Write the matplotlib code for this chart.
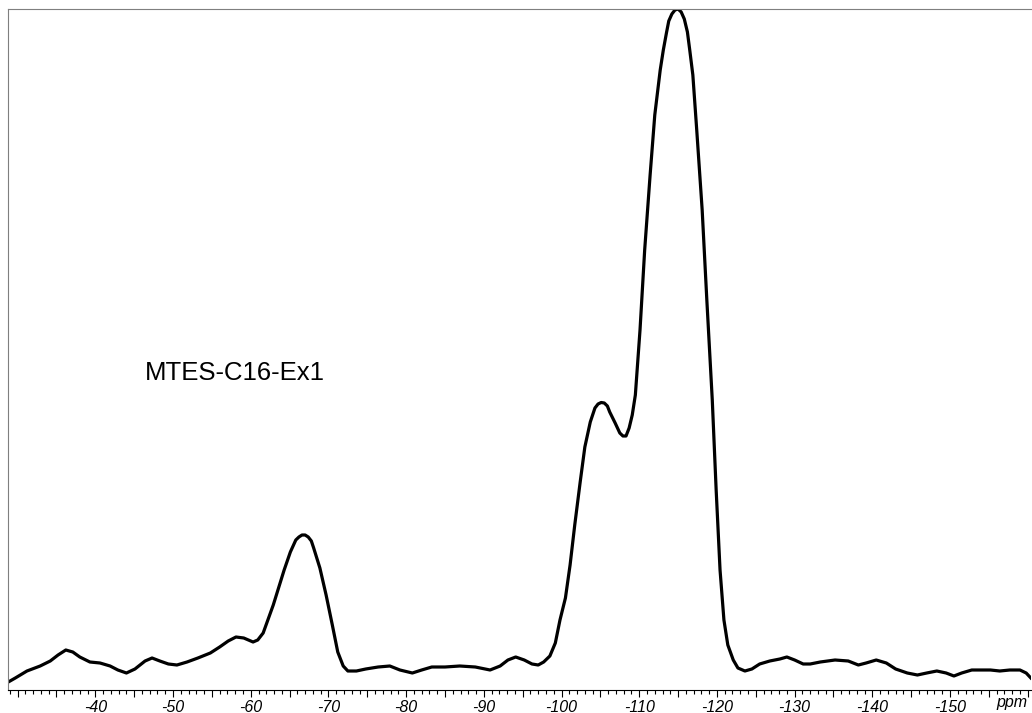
import numpy as np
import matplotlib.pyplot as plt
from matplotlib.ticker import MultipleLocator, FuncFormatter

# 29Si NMR spectrum (ppm, intensity in a.u.)
ppm = [-28.8, -29.7, -31.2, -32.9, -34.2, -35.2, -36.2, -37.1, -38.0, -39.3,
       -40.6, -41.9, -42.9, -44.0, -45.1, -46.4, -47.3, -48.3, -49.4, -50.5,
       -51.8, -53.2, -54.8, -56.0, -57.1, -58.1, -59.1, -60.3, -60.9, -61.6,
       -62.2, -62.9, -63.5, -64.3, -65.1, -65.8, -66.2, -66.6, -67.0, -67.4,
       -67.8, -68.1, -68.9, -69.7, -70.5, -71.2, -71.9, -72.5, -73.6, -74.8,
       -76.4, -77.9, -79.2, -80.8, -82.0, -83.3, -85.0, -86.9, -88.9, -90.8,
       -92.1, -93.1, -94.1, -95.2, -96.2, -97.0, -97.7, -98.5, -99.2, -99.8,
       -100.5, -101.1, -101.7, -102.4, -103.0, -103.7, -104.3, -104.7, -105.1, -105.5,
       -105.9, -106.2, -106.9, -107.5, -107.9, -108.3, -108.7, -109.1, -109.5, -110.1,
       -110.7, -111.4, -112.0, -112.7, -113.1, -113.5, -113.8, -114.2, -114.6, -115.0,
       -115.4, -115.8, -116.2, -116.5, -116.9, -117.4, -118.1, -118.7, -119.4, -119.9,
       -120.4, -120.9, -121.4, -122.1, -122.7, -123.6, -124.5, -125.5, -126.8, -128.1,
       -129.0, -130.0, -131.1, -132.0, -133.3, -135.2, -136.9, -138.2, -139.2, -140.5,
       -141.8, -143.0, -144.5, -145.8, -147.0, -148.3, -149.5, -150.5, -151.5, -152.8,
       -155.2, -156.4, -157.7, -159.0, -159.8, -160.4]
intensity = [8, 12, 19, 24, 29, 35, 40, 38, 33, 28,
             27, 24, 20, 17, 21, 29, 32, 29, 26, 25,
             28, 32, 37, 43, 49, 53, 52, 48, 50, 57,
             70, 85, 100, 120, 138, 150, 153, 155, 155, 153,
             149, 142, 122, 95, 65, 38, 24, 19, 19, 21,
             23, 24, 20, 17, 20, 23, 23, 24, 23, 20,
             24, 30, 33, 30, 26, 25, 28, 34, 47, 70,
             92, 125, 165, 208, 243, 268, 282, 286, 287.5, 287,
             284, 278, 267, 257, 254, 254, 262, 275, 295, 360,
             440, 515, 575, 620, 640, 657, 669, 676, 680, 681,
             678, 671, 658, 640, 615, 560, 480, 390, 290, 200,
             120, 70, 45, 30, 22, 19, 21, 26, 29, 31,
             33, 30, 26, 26, 28, 30, 29, 25, 27, 30,
             27, 21, 17, 15, 17, 19, 17, 14, 17, 20,
             20, 19, 20, 20, 17, 12]

label = "MTES-C16-Ex1"

plt.rcParams['font.family'] = ['Liberation Sans', 'DejaVu Sans']

fig = plt.figure(figsize=(10.32, 7.13), dpi=100)
ax = fig.add_axes([8/1032, 23/713, 1023/1032, 681/713])

ax.plot(ppm, intensity, color="black", lw=2.3, solid_joinstyle='round')
ax.set_xlim(-28.76, -160.42)
ax.set_ylim(0, 681)

ax.text(-46.4, 310, label, fontsize=18.5)

ax.spines['right'].set_visible(False)
ax.spines['top'].set_color('#7f7f7f')
ax.spines['left'].set_color('#7f7f7f')
ax.spines['bottom'].set_color('black')
ax.set_yticks([])

ax.xaxis.set_major_locator(MultipleLocator(5))
ax.xaxis.set_minor_locator(MultipleLocator(1))


def fmt(v, pos):
    v = int(round(v))
    if v % 10 != 0 or v <= -160 or v >= -30:
        return ""
    return str(v)


ax.xaxis.set_major_formatter(FuncFormatter(fmt))
ax.tick_params(axis='x', which='major', length=5, width=0.8, pad=2)
ax.tick_params(axis='x', which='minor', length=3, width=0.8)
for t in ax.get_xticklabels():
    t.set_fontstyle('italic')
    t.set_fontsize(11.5)

ax.text(0.997, -0.029, "ppm", transform=ax.transAxes, ha='right', va='bottom',
        fontsize=11.5, fontstyle='italic')

plt.savefig("out.png", dpi=100)
